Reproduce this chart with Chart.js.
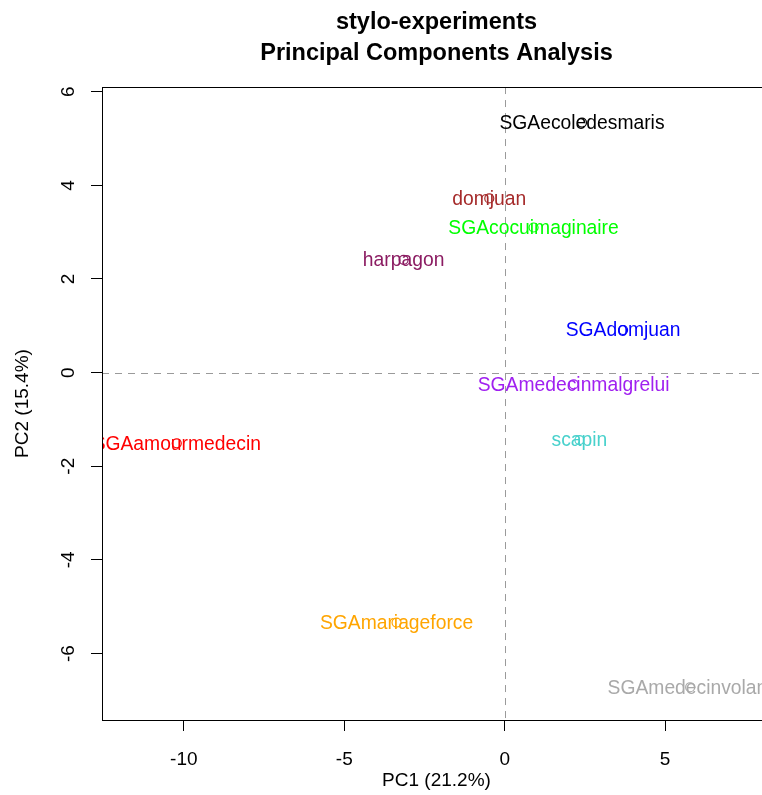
<!DOCTYPE html>
<html>
<head>
<meta charset="utf-8">
<script src="https://cdn.jsdelivr.net/npm/chart.js@4/dist/chart.umd.min.js"></script>
<style>
  html, body { margin: 0; padding: 0; background: #ffffff; overflow: hidden; }
  #wrap { width: 800px; height: 795px; }
</style>
</head>
<body>
<div id="wrap"><canvas id="pca" width="800" height="795"></canvas></div>
<script>
// Samples and their scores on the first two principal components
const samples = [
  "SGAamourmedecin", "SGAcocuimaginaire", "SGAdomjuan", "SGAecoledesmaris",
  "SGAmariageforce", "SGAmedecinmalgrelui", "SGAmedecinvolant",
  "domjuan", "harpagon", "scapin"
];
const pc1 = [-10.22, 0.90, 3.69, 2.41, -3.37, 2.15, 5.78, -0.48, -3.15, 2.33];
const pc2 = [-1.51, 3.10, 0.91, 5.34, -5.34, -0.25, -6.72, 3.72, 2.41, -1.44];
const sampleColors = [
  "#FF0000", "#00FF00", "#0000FF", "#000000",
  "#FFA500", "#A020F0", "#A9A9A9",
  "#A52A2A", "#8B1C62", "#48D1CC"
];
const titleLines = ["stylo-experiments", "Principal Components Analysis"];
const xTitle = "PC1 (21.2%)";
const yTitle = "PC2 (15.4%)";

const FONT = "'Liberation Sans', Arial, Helvetica, sans-serif";

// Frame around the plotting region
const framePlugin = {
  id: "frame",
  afterDraw(chart) {
    const { ctx, chartArea: a } = chart;
    ctx.save();
    ctx.strokeStyle = "#000";
    ctx.lineWidth = 1;
    ctx.strokeRect(Math.round(a.left) + 0.5, Math.round(a.top) + 0.5,
                   Math.round(a.right - a.left), Math.round(a.bottom - a.top));
    ctx.restore();
  }
};

// Dashed reference lines through the origin
const originPlugin = {
  id: "origin",
  beforeDatasetsDraw(chart) {
    const { ctx, chartArea: a, scales } = chart;
    const x0 = Math.round(scales.x.getPixelForValue(0)) + 0.5;
    const y0 = Math.round(scales.y.getPixelForValue(0)) + 0.5;
    ctx.save();
    ctx.strokeStyle = "#9a9a9a";
    ctx.lineWidth = 1;
    ctx.setLineDash([7, 6]);
    ctx.beginPath();
    ctx.moveTo(x0, a.top); ctx.lineTo(x0, a.bottom);
    ctx.moveTo(a.left, y0); ctx.lineTo(a.right, y0);
    ctx.stroke();
    ctx.restore();
  }
};

// Sample names written centred on their points
const namePlugin = {
  id: "names",
  afterDatasetsDraw(chart) {
    const { ctx, chartArea: a } = chart;
    const meta = chart.getDatasetMeta(0);
    ctx.save();
    ctx.beginPath();
    ctx.rect(a.left + 1, a.top, a.right - a.left, a.bottom - a.top);
    ctx.clip();
    ctx.font = "19.3px " + FONT;
    ctx.textAlign = "center";
    ctx.textBaseline = "middle";
    meta.data.forEach((pt, i) => {
      ctx.fillStyle = sampleColors[i];
      ctx.fillText(samples[i], pt.x, pt.y + 1);
    });
    ctx.restore();
  }
};

new Chart(document.getElementById("pca"), {
  type: "scatter",
  data: {
    datasets: [{
      data: samples.map((s, i) => ({ x: pc1[i], y: pc2[i] })),
      pointStyle: "circle",
      pointRadius: 4.5,
      pointHoverRadius: 4.5,
      pointBorderWidth: 1.2,
      pointBorderColor: sampleColors,
      pointBackgroundColor: "rgba(0,0,0,0)"
    }]
  },
  options: {
    responsive: false,
    animation: false,
    events: [],
    layout: { padding: { left: 0, right: 29, top: 0, bottom: 0 } },
    plugins: {
      legend: { display: false },
      tooltip: { enabled: false },
      title: {
        display: true,
        fullSize: false,
        text: titleLines,
        color: "#000",
        font: { family: FONT, size: 23.5, weight: "bold", lineHeight: 1.32 },
        padding: { top: 7, bottom: 18 }
      }
    },
    scales: {
      x: {
        type: "linear",
        min: -12.55,
        max: 8.3,
        afterFit(scale) { scale.height = 75; },
        ticks: {
          stepSize: 5,
          includeBounds: false,
          color: "#000",
          font: { family: FONT, size: 19 },
          padding: 17,
          maxRotation: 0
        },
        grid: {
          display: true,
          drawOnChartArea: false,
          drawTicks: true,
          tickLength: 11,
          color: "#000",
          lineWidth: 1
        },
        border: { display: true, color: "#000", width: 1 },
        title: {
          display: true,
          text: xTitle,
          color: "#000",
          font: { family: FONT, size: 19 },
          padding: { top: 0, bottom: 3 }
        }
      },
      y: {
        type: "linear",
        min: -7.42,
        max: 6.1,
        afterFit(scale) { scale.width = 102; },
        ticks: {
          stepSize: 2,
          includeBounds: false,
          color: "#000",
          font: { family: FONT, size: 19 },
          minRotation: 90,
          maxRotation: 90,
          crossAlign: "center",
          padding: 14
        },
        grid: {
          display: true,
          drawOnChartArea: false,
          drawTicks: true,
          tickLength: 11,
          color: "#000",
          lineWidth: 1
        },
        border: { display: true, color: "#000", width: 1 },
        title: {
          display: true,
          text: yTitle,
          color: "#000",
          font: { family: FONT, size: 19 },
          padding: { top: 11, bottom: 0 }
        }
      }
    }
  },
  plugins: [originPlugin, namePlugin, framePlugin]
});
</script>
</body>
</html>
